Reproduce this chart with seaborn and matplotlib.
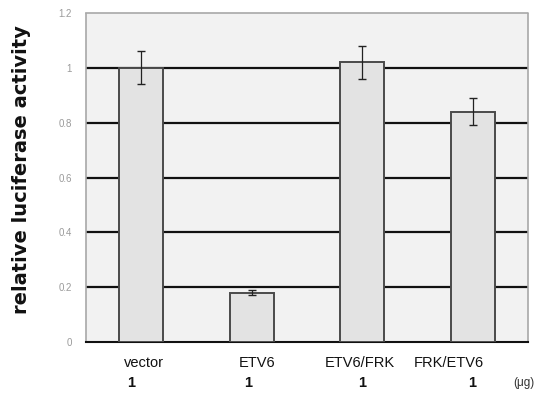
import matplotlib
matplotlib.use("Agg")
import matplotlib.pyplot as plt
import matplotlib.transforms as mtransforms
import seaborn as sns
import pandas as pd

categories = ["vector", "ETV6", "ETV6/FRK", "FRK/ETV6"]
values = [1.00, 0.18, 1.02, 0.84]
errors = [0.06, 0.01, 0.06, 0.05]
amounts = ["1", "1", "1", "1"]
unit_label = "(\u03bcg)"
y_ticks = [0, 0.2, 0.4, 0.6, 0.8, 1.0, 1.2]
y_tick_labels = ["0", "0.2", "0.4", "0.6", "0.8", "1", "1.2"]
grid_levels = [0.2, 0.4, 0.6, 0.8, 1.0]
y_label = "relative luciferase activity"

sns.set_style("white")
plt.rcParams["font.family"] = ["Liberation Sans", "DejaVu Sans"]

fig = plt.figure(figsize=(5.53, 3.97), dpi=100)
ax = fig.add_axes([86 / 553, 55 / 397, (528 - 86) / 553, (342 - 13) / 397])
ax.set_facecolor("#f2f2f2")

df = pd.DataFrame({"cat": categories, "val": values})
sns.barplot(data=df, x="cat", y="val", width=0.4, color="#e3e3e3",
            edgecolor="#4a4a4a", linewidth=1.4, saturation=1, ax=ax, zorder=3,
            errorbar=None)

for g in grid_levels:
    ax.axhline(g, color="#111111", linewidth=1.6, zorder=2)

xpos = list(range(len(categories)))
ax.errorbar(xpos, values, yerr=errors, fmt="none", ecolor="#222222",
            elinewidth=0.9, capsize=3, capthick=1.0, zorder=4)

ax.set_xlim(-0.5, 3.5)
ax.set_ylim(0, 1.2)
ax.set_yticks(y_ticks)
ax.set_yticklabels(y_tick_labels, color="#9a9a9a", fontsize=7)
ax.tick_params(axis="y", length=0, pad=10)

ax.set_xticks(xpos)
ax.set_xticklabels(categories, fontsize=10.5, color="#111111")
ax.tick_params(axis="x", length=0, pad=10)
ax.set_xticks([0.5, 1.5, 2.5], minor=True)
ax.tick_params(axis="x", which="minor", direction="in", length=3, width=0.8, color="#333333")

# small horizontal shifts of the category labels (pixels), as in the scan
label_shift_px = [3, 5, -2, -24]
for lbl, dx in zip(ax.get_xticklabels(), label_shift_px):
    lbl.set_transform(lbl.get_transform() + mtransforms.ScaledTranslation(dx / 100, 0, fig.dpi_scale_trans))

ax.set_xlabel("")
ax.set_ylabel(y_label, fontsize=14, fontweight="bold", color="#111111",
              family=["DejaVu Sans"])
ax.yaxis.set_label_coords(-0.124, 0.523)

trans = mtransforms.blended_transform_factory(ax.transData, ax.transAxes)
amount_shift_px = [-10, -4, 0, -1]
for x, a, dx in zip(xpos, amounts, amount_shift_px):
    t = trans + mtransforms.ScaledTranslation(dx / 100, 0, fig.dpi_scale_trans)
    ax.text(x, -0.125, a, transform=t, ha="center", va="center",
            fontsize=10.5, fontweight="bold", color="#111111")
ax.text(3.46, -0.125, unit_label, transform=trans, ha="center", va="center",
        fontsize=8.5, color="#333333")

for side in ["left", "top", "right"]:
    ax.spines[side].set_color("#a8a8a8")
    ax.spines[side].set_linewidth(1.2)
    ax.spines[side].set_linestyle((0, (1, 1)))
ax.spines["bottom"].set_color("#111111")
ax.spines["bottom"].set_linewidth(1.5)

fig.savefig("out.png", dpi=100, facecolor="white")
